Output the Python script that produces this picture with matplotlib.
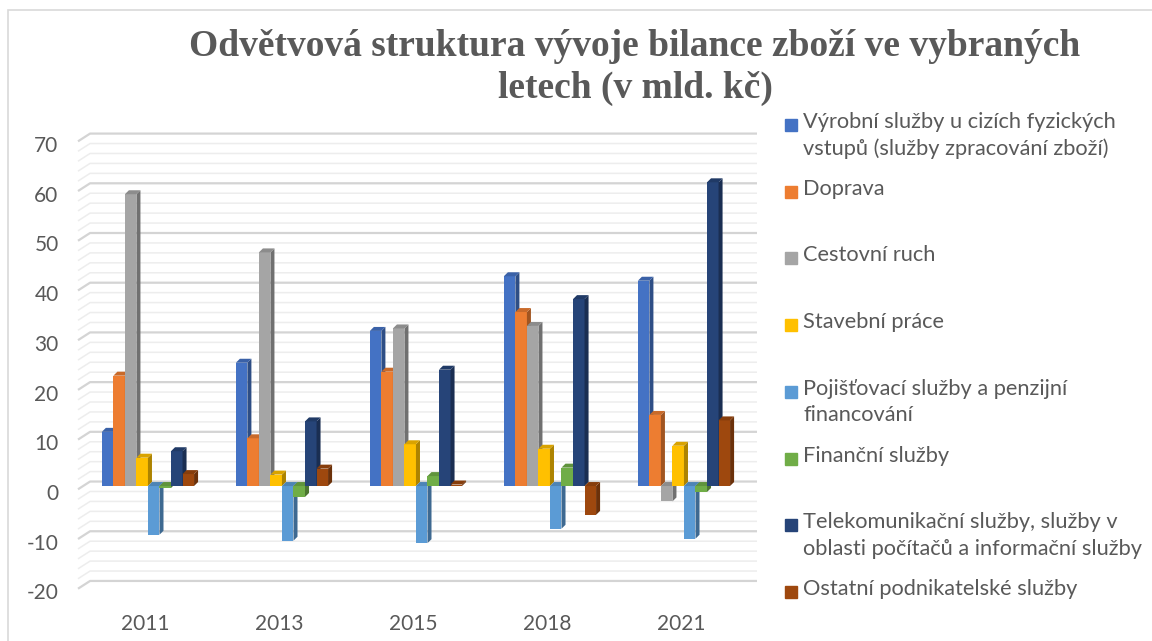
import numpy as np
import matplotlib
matplotlib.use("Agg")
import matplotlib.pyplot as plt
from matplotlib.patches import Polygon, Rectangle
from matplotlib.transforms import ScaledTranslation

plt.rcParams['font.family'] = ['Lato', 'DejaVu Sans']

# ==================== data ====================
roky = ['2011', '2013', '2015', '2018', '2021']
serie = [
    'Výrobní služby u cizích fyzických\nvstupů (služby zpracování zboží)',
    'Doprava',
    'Cestovní ruch',
    'Stavební práce',
    'Pojišťovací služby a penzijní\nfinancování',
    'Finanční služby',
    'Telekomunikační služby, služby v\noblasti počítačů a informační služby',
    'Ostatní podnikatelské služby',
]
vyrobni = [10.9, 24.8, 31.2, 42.2, 41.3]
doprava = [22.2, 9.6, 23.0, 35.0, 14.3]
cestovni = [58.7, 47.0, 31.7, 32.2, -3.1]
stavebni = [5.7, 2.3, 8.4, 7.5, 8.1]
pojistovaci = [-9.8, -11.0, -11.5, -8.6, -10.6]
financni = [-0.4, -2.2, 2.0, 3.7, -1.2]
telekom = [7.0, 13.0, 23.4, 37.6, 61.1]
ostatni = [2.4, 3.5, 0.3, -5.8, 13.2]
hodnoty = [vyrobni, doprava, cestovni, stavebni, pojistovaci, financni, telekom, ostatni]

barvy = ['#4472C4', '#ED7D31', '#A5A5A5', '#FFC000',
         '#5B9BD5', '#70AD47', '#264478', '#9E480E']
text_barva = '#595959'

# ==================== canvas ====================
W, H = 1152, 641
fig = plt.figure(figsize=(W / 100, H / 100), dpi=100)
ax = fig.add_axes([78 / W, (H - 590.4) / H, 679 / W, 459.8 / H])
ax.set_xlim(-0.522, 4.545)
ax.set_ylim(-21, 71.5)
for s in ax.spines.values():
    s.set_visible(False)
ax.tick_params(length=0)

# ramecek grafu
fig.patches.append(Rectangle((8 / W, -0.1), 1.2, 1 - 10 / H + 0.1, transform=fig.transFigure,
                             fill=False, edgecolor='#D9D9D9', lw=1.2))

# mrizka se zadni stenou (3D efekt)
x_left, x_wall, x_right = -0.522, -0.432, 4.545
for v in np.arange(-20, 71, 2):
    major = v % 10 == 0
    c = '#D4D4D4' if major else '#EDEDED'
    lw = 1.6 if major else 1.1
    ax.plot([x_left, x_wall, x_right], [v - 0.66, v + 0.9, v + 0.9],
            color=c, lw=lw, clip_on=False, zorder=0, solid_capstyle='butt')

# osy
ax.set_yticks(np.arange(-20, 71, 10))
ax.set_yticklabels([str(v) for v in range(-20, 71, 10)], fontsize=15, color=text_barva)
ax.tick_params(axis='y', pad=14)
for lab in ax.get_yticklabels():
    lab.set_transform(lab.get_transform() + ScaledTranslation(0, -0.06, fig.dpi_scale_trans))
ax.set_xticks(np.arange(len(roky)) - 0.02)
ax.set_xticklabels(roky, fontsize=15, color=text_barva)
ax.tick_params(axis='x', pad=17)


def ztmav(c, f):
    rgb = np.array(matplotlib.colors.to_rgb(c))
    return tuple(rgb * f)


# sloupce s bocni a horni stenou
w = 0.086
dx, dy = 0.03, 0.8
x = np.arange(len(roky))
for j, (vals, c) in enumerate(zip(hodnoty, barvy)):
    x0s = x - 4 * w + j * w
    ax.bar(x0s, vals, width=w, align='edge', color=c, zorder=2 + j, lw=0)
    for x0, v in zip(x0s, vals):
        x1 = x0 + w
        lo, hi = min(0, v), max(0, v)
        ax.add_patch(Polygon([(x1, lo), (x1 + dx, lo + dy), (x1 + dx, hi + dy), (x1, hi)],
                             closed=True, color=ztmav(c, 0.68), lw=0, zorder=2 + j))
        ax.add_patch(Polygon([(x0, hi), (x0 + dx, hi + dy), (x1 + dx, hi + dy), (x1, hi)],
                             closed=True, color=ztmav(c, 0.85), lw=0, zorder=2 + j))

# titulek
fig.text(635 / W, 1 - 46 / H, 'Odvětvová struktura vývoje bilance zboží ve vybraných',
         ha='center', va='center', fontsize=27, fontweight='bold',
         family='Liberation Serif', color=text_barva)
fig.text(635 / W, 1 - 88 / H, 'letech (v mld. kč)',
         ha='center', va='center', fontsize=27, fontweight='bold',
         family='Liberation Serif', color=text_barva)

# legenda
for k, (nazev, c) in enumerate(zip(serie, barvy)):
    y = 125 + k * 66.7
    fig.patches.append(Rectangle((785 / W, 1 - (y + 6) / H), 12 / W, 12 / H,
                                 transform=fig.transFigure, color=c))
    fig.text(803 / W, 1 - (y - 13) / H, nazev, ha='left', va='top', fontsize=15.7,
             color=text_barva, linespacing=1.4)

fig.savefig('out.png', dpi=100)
